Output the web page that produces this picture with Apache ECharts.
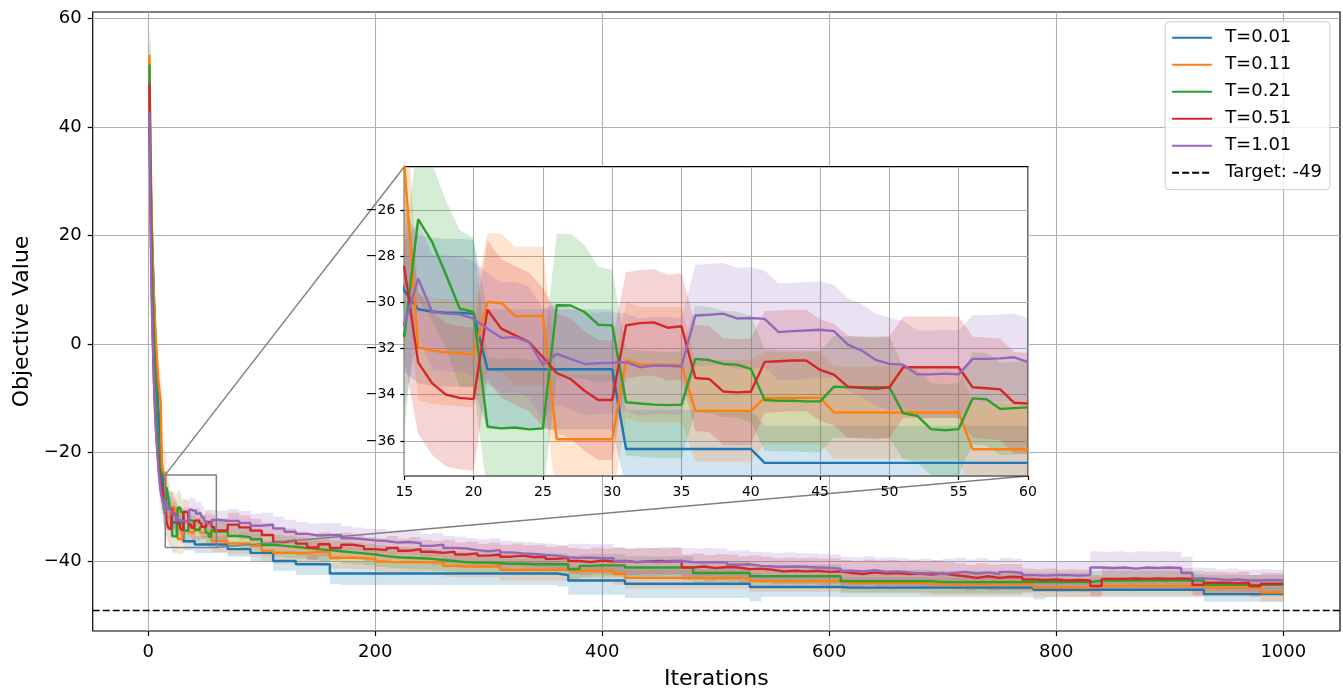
<!DOCTYPE html>
<html>
<head>
<meta charset="utf-8">
<script src="https://cdn.jsdelivr.net/npm/echarts@6/dist/echarts.min.js"></script>
<style>
html,body{margin:0;padding:0;background:#ffffff;}
#chart{width:1343px;height:690px;}
</style>
</head>
<body>
<div id="chart"></div>
<script>
// ---------------- DATA ----------------
const seriesNames = ['T=0.01', 'T=0.11', 'T=0.21', 'T=0.51', 'T=1.01'];
const targetLabel = 'Target: -49';
const targetValue = -49;

// iterations: 1..60 every iteration, then every 10 up to 1000
const iterations = [
  1,2,3,4,5,6,7,8,9,10,11,12,13,14,15,16,17,18,19,20,
  21,22,23,24,25,26,27,28,29,30,31,32,33,34,35,36,37,38,39,40,
  41,42,43,44,45,46,47,48,49,50,51,52,53,54,55,56,57,58,59,60,
  70,80,90,100,110,120,130,140,150,160,170,180,190,200,210,220,230,240,250,260,
  270,280,290,300,310,320,330,340,350,360,370,380,390,400,410,420,430,440,450,460,
  470,480,490,500,510,520,530,540,550,560,570,580,590,600,610,620,630,640,650,660,
  670,680,690,700,710,720,730,740,750,760,770,780,790,800,810,820,830,840,850,860,
  870,880,890,900,910,920,930,940,950,960,970,980,990,1000
];

const meanT001 = [
  40,30,22,15,9,3,-3,-8,-12,-16,
  -19,-22.5,-25.5,-27.8,-29.5,-30.3,-30.4,-30.45,-30.45,-30.5,
  -32.9,-32.9,-32.9,-32.9,-32.9,-32.9,-32.9,-32.9,-32.9,-32.9,
  -36.35,-36.35,-36.35,-36.35,-36.35,-36.35,-36.35,-36.35,-36.35,-36.35,
  -36.95,-36.95,-36.95,-36.95,-36.95,-36.95,-36.95,-36.95,-36.95,-36.95,
  -36.95,-36.95,-36.95,-36.95,-36.95,-36.95,-36.95,-36.95,-36.95,-36.95,
  -37.8,-37.8,-38.5,-38.5,-40.0,-40.0,-40.6,-40.6,-40.6,-42.3,
  -42.3,-42.3,-42.3,-42.3,-42.3,-42.3,-42.3,-42.3,-42.3,-42.3,
  -42.3,-42.3,-42.3,-42.3,-42.3,-42.3,-42.3,-42.3,-42.3,-42.6,
  -43.6,-43.6,-43.6,-43.6,-43.6,-44.2,-44.2,-44.2,-44.2,-44.2,
  -44.2,-44.2,-44.2,-44.2,-44.2,-44.2,-44.8,-44.8,-44.8,-44.8,
  -44.8,-44.8,-44.8,-44.8,-44.9,-44.9,-44.9,-44.9,-44.9,-44.9,
  -44.9,-44.9,-44.9,-44.9,-44.9,-44.9,-44.9,-44.9,-44.9,-44.9,
  -44.9,-45.3,-45.3,-45.3,-45.3,-45.3,-45.3,-45.3,-45.3,-45.3,
  -45.3,-45.3,-45.3,-45.3,-45.3,-45.3,-46.1,-46.1,-46.1,-46.1,
  -46.1,-46.1,-46.1,-46.1
];
const meanT011 = [
  53.3,36,24,15,8,3,-1,-4,-7,-9,
  -10.8,-22.5,-23.5,-23.8,-24.0,-31.94,-32.09,-32.16,-32.2,-32.26,
  -29.99,-30.03,-30.6,-30.6,-30.6,-35.93,-35.93,-35.93,-35.93,-35.93,
  -32.5,-32.7,-32.7,-32.7,-32.7,-34.7,-34.7,-34.7,-34.7,-34.7,
  -34.14,-34.14,-34.14,-34.14,-34.14,-34.77,-34.77,-34.77,-34.77,-34.77,
  -34.77,-34.77,-34.77,-34.77,-34.77,-36.36,-36.36,-36.36,-36.36,-36.36,
  -36.8,-36.8,-37.2,-38.1,-38.5,-38.5,-38.5,-38.3,-38.3,-39.4,
  -39.4,-39.5,-39.6,-40.1,-40.2,-40.2,-40.2,-40.2,-40.2,-40.9,
  -41.0,-41.0,-41.0,-41.0,-41.6,-41.6,-41.6,-41.6,-41.6,-41.6,
  -41.8,-41.8,-41.8,-41.8,-42.4,-43.1,-43.1,-43.1,-43.1,-43.1,
  -43.1,-43.1,-43.1,-43.1,-43.1,-43.1,-43.7,-43.7,-43.7,-43.7,
  -43.7,-43.7,-43.7,-43.7,-44.0,-44.0,-44.0,-44.0,-44.0,-44.0,
  -44.0,-44.2,-44.3,-44.3,-44.3,-44.3,-44.3,-44.3,-44.3,-44.3,
  -44.3,-44.9,-44.9,-44.9,-44.9,-44.9,-44.6,-44.6,-44.6,-44.6,
  -44.6,-44.6,-44.6,-44.6,-44.6,-44.6,-44.9,-44.9,-44.9,-44.9,
  -44.9,-45.8,-45.8,-45.8
];
const meanT021 = [
  51.5,33,19,9,1,-5,-10,-14.5,-18.5,-21.5,
  -24.5,-26.8,-28.8,-30.3,-31.5,-26.4,-27.38,-28.8,-30.28,-30.42,
  -35.38,-35.46,-35.42,-35.5,-35.46,-30.13,-30.14,-30.42,-30.97,-31.0,
  -34.33,-34.38,-34.43,-34.45,-34.43,-32.45,-32.5,-32.67,-32.7,-32.88,
  -34.23,-34.26,-34.26,-34.29,-34.29,-33.65,-33.68,-33.68,-33.68,-33.68,
  -34.81,-34.91,-35.49,-35.54,-35.49,-34.16,-34.2,-34.62,-34.58,-34.55,
  -35.4,-35.6,-36.0,-37.0,-37.2,-37.4,-37.6,-37.8,-38.0,-38.2,
  -38.4,-38.6,-38.8,-39.1,-39.3,-39.4,-39.5,-39.6,-39.8,-40.0,
  -40.2,-40.3,-40.3,-40.4,-40.5,-40.5,-40.6,-40.6,-40.6,-40.6,
  -41.5,-40.9,-40.8,-40.8,-40.8,-41.2,-41.2,-41.2,-41.2,-41.2,
  -41.2,-42.2,-42.2,-42.2,-42.2,-42.2,-42.8,-42.8,-42.8,-42.8,
  -42.8,-42.8,-42.8,-42.8,-43.7,-43.7,-43.7,-43.7,-43.7,-43.7,
  -43.7,-43.7,-43.9,-43.9,-43.9,-43.9,-43.9,-43.9,-43.9,-43.9,
  -43.9,-43.9,-43.9,-43.9,-43.9,-43.9,-43.6,-43.6,-43.6,-43.6,
  -43.6,-43.6,-43.6,-43.6,-43.6,-43.6,-44.4,-44.4,-44.4,-44.4,
  -44.4,-44.4,-44.4,-44.4
];
const meanT051 = [
  48,26,11,1,-7,-12.5,-16.5,-19.5,-22,-24,
  -25.5,-26.6,-27.4,-28,-28.5,-32.6,-33.5,-34.0,-34.14,-34.19,
  -30.32,-31.14,-31.43,-31.72,-32.38,-33.06,-33.32,-33.83,-34.23,-34.23,
  -31.0,-30.9,-30.87,-31.1,-31.04,-33.28,-33.32,-33.86,-33.9,-33.87,
  -32.58,-32.55,-32.52,-32.52,-32.93,-33.13,-33.65,-33.7,-33.74,-33.68,
  -32.81,-32.81,-32.81,-32.81,-32.81,-33.68,-33.72,-33.77,-34.35,-34.38,
  -33.3,-33.8,-34.4,-35.2,-36.5,-36.2,-36.8,-37.5,-36.9,-37.6,
  -37.0,-37.3,-37.8,-38.0,-37.6,-38.1,-37.8,-38.3,-38.5,-38.3,
  -38.8,-38.6,-39.0,-38.8,-39.2,-39.0,-39.3,-39.2,-39.6,-39.4,
  -40.0,-40.2,-39.9,-40.1,-40.0,-40.2,-40.1,-40.0,-40.1,-40.0,
  -41.2,-41.0,-41.3,-41.1,-41.2,-41.5,-41.4,-41.6,-41.9,-41.8,
  -41.9,-41.8,-42.0,-41.9,-42.2,-42.4,-42.1,-42.3,-42.2,-42.4,
  -42.3,-42.5,-42.3,-42.6,-42.8,-43.1,-42.8,-43.1,-42.9,-43.0,
  -43.4,-43.5,-43.4,-43.6,-43.5,-43.6,-44.6,-43.3,-43.3,-43.2,
  -43.3,-43.2,-43.3,-43.2,-43.3,-44.4,-44.0,-44.0,-44.1,-44.0,
  -44.6,-44.2,-44.2,-44.2
];
const meanT101 = [
  42.8,22,8,0,-6.5,-12,-16.5,-20,-23,-25.5,
  -27.3,-28.3,-29.2,-30.1,-31.0,-28.97,-30.42,-30.49,-30.52,-30.71,
  -31.14,-31.54,-31.51,-31.72,-32.7,-32.23,-32.45,-32.67,-32.64,-32.62,
  -32.59,-32.81,-32.74,-32.75,-32.78,-30.57,-30.54,-30.49,-30.7,-30.68,
  -30.72,-31.29,-31.25,-31.22,-31.19,-31.25,-31.83,-32.09,-32.49,-32.67,
  -32.7,-33.12,-33.12,-33.09,-33.12,-32.45,-32.45,-32.43,-32.38,-32.59,
  -32.6,-33.0,-33.5,-33.3,-34.0,-34.6,-35.0,-35.3,-35.2,-35.2,
  -35.8,-36.0,-36.2,-36.3,-36.6,-36.5,-36.7,-37.2,-37.0,-37.6,
  -37.7,-38.0,-38.2,-38.0,-38.4,-38.6,-38.7,-38.9,-39.0,-39.3,
  -39.4,-39.4,-39.5,-39.5,-40.0,-40.2,-40.1,-40.2,-40.0,-40.0,
  -40.2,-40.3,-40.2,-40.3,-40.7,-40.6,-40.9,-41.0,-41.1,-41.0,
  -41.1,-41.2,-41.3,-41.4,-41.8,-41.9,-41.7,-42.0,-41.9,-42.1,
  -42.3,-42.2,-42.4,-42.2,-42.0,-42.3,-42.1,-42.4,-42.0,-42.2,
  -42.6,-42.7,-42.6,-42.6,-42.7,-42.6,-41.2,-41.3,-41.2,-41.4,
  -41.2,-41.3,-41.2,-41.3,-42.2,-43.2,-43.3,-43.5,-43.4,-43.6,
  -43.6,-43.5,-43.6,-43.5
];

// half-width of the shaded band around each mean
const spreadT001 = [
  4,4,4,4,4,4,4,4,4,4,
  4,4,4,4,3.5,3.2,3.2,3.2,3.2,3.2,
  2.6,2.6,2.6,2.6,2.6,2.6,2.6,2.6,2.6,2.6,
  1.7,1.7,1.7,1.7,1.7,1.7,1.7,1.7,1.7,1.7,
  1.6,1.6,1.6,1.6,1.6,1.6,1.6,1.6,1.6,1.6,
  1.6,1.6,1.6,1.6,1.6,1.6,1.6,1.6,1.6,1.6,
  1.4,1.4,1.6,1.6,1.8,1.8,2.0,2.0,2.0,2.0,
  2.1,2.1,2.1,2.1,2.1,2.1,2.1,2.1,2.1,2.1,
  2.1,2.1,2.1,2.1,2.1,2.1,2.1,2.1,2.1,2.1,
  2.6,2.6,2.6,2.6,2.6,2.6,2.6,2.6,2.6,2.6,
  2.6,2.6,2.6,2.6,2.6,2.6,2.6,1.8,1.8,1.8,
  1.8,1.8,1.8,1.8,1.8,1.8,1.8,1.8,1.8,1.8,
  1.8,1.8,1.8,1.8,1.8,1.8,1.8,1.8,1.8,1.8,
  1.8,1.8,1.4,1.4,1.4,1.4,1.4,1.4,1.4,1.4,
  1.4,1.4,1.4,1.4,1.4,1.4,1.4,1.4,1.4,1.4,
  1.4,1.4,1.4,1.4
];
const spreadT011 = [
  4,4,4,4,4,4,4,4,4,4,
  4,4,4,4,4,2.3,2.3,2.3,2.3,2.3,
  3.0,3.0,3.0,3.0,3.0,2.8,2.8,2.8,2.8,2.8,
  2.5,2.5,2.5,2.5,2.5,2.2,2.2,2.2,2.2,2.2,
  2.0,2.0,2.0,2.0,2.0,2.0,2.0,2.0,2.0,2.0,
  2.0,2.0,2.0,2.0,2.0,2.0,2.0,2.0,2.0,2.0,
  2.0,2.0,2.0,2.0,2.0,2.0,2.0,2.0,2.0,2.0,
  2.0,2.0,2.0,2.0,2.0,2.0,2.0,2.0,2.0,2.0,
  2.0,2.0,2.0,2.0,2.0,2.0,2.0,2.0,2.0,2.0,
  2.0,2.0,2.0,2.0,2.0,2.0,2.0,2.0,2.0,2.0,
  2.0,2.0,2.0,2.0,2.0,2.0,2.0,2.0,2.0,2.0,
  2.0,2.0,2.0,2.0,2.0,2.0,2.0,2.0,2.0,2.0,
  2.0,2.0,2.0,2.0,2.0,2.0,2.0,2.0,2.0,2.0,
  1.7,1.7,1.7,1.7,1.7,1.7,1.7,1.7,1.7,1.7,
  1.7,1.7,1.7,1.7,1.7,1.7,1.7,1.7,1.7,1.7,
  1.7,1.7,1.7,1.7
];
const spreadT021 = [
  4,4,4,4,4,4,4,4,4,4,
  4,4,4,4,4,3.5,3.4,3.2,3.4,3.2,
  3.0,3.0,3.0,3.0,3.0,3.1,3.1,2.9,2.5,2.4,
  2.3,2.3,2.3,2.3,2.3,2.3,2.3,2.3,2.3,2.3,
  2.2,2.2,2.2,2.2,2.2,2.2,2.2,2.2,2.2,2.2,
  2.0,2.0,2.0,2.0,2.0,2.0,2.0,2.0,2.0,2.0,
  2.0,2.0,2.0,2.0,2.0,2.0,2.0,2.0,2.0,2.0,
  2.0,2.0,2.0,2.0,2.0,2.0,2.0,2.0,2.0,2.0,
  2.0,2.0,2.0,2.0,2.0,2.0,2.0,2.0,2.0,2.0,
  2.1,2.1,2.1,2.1,2.1,2.1,2.1,2.1,2.1,2.1,
  2.1,2.1,2.1,2.1,2.1,2.1,2.1,2.1,2.1,2.1,
  2.1,2.1,2.1,2.1,2.1,2.1,2.1,2.1,2.1,2.1,
  2.1,2.1,2.1,2.1,2.1,2.1,2.1,2.1,2.1,2.1,
  1.8,1.8,1.8,1.8,1.8,1.8,1.8,1.8,1.8,1.8,
  1.8,1.8,1.8,1.8,1.8,1.8,1.8,1.8,1.8,1.8,
  1.8,1.8,1.8,1.8
];
const spreadT051 = [
  4,4,4,4,4,4,4,4,4,4,
  4,4,4,4,4,3.1,3.1,3.1,3.1,3.1,
  3.0,3.0,3.0,3.0,3.0,2.6,2.6,2.6,2.6,2.6,
  2.3,2.3,2.3,2.3,2.3,2.3,2.3,2.3,2.3,2.3,
  2.2,2.2,2.2,2.2,2.2,2.2,2.2,2.2,2.2,2.2,
  2.2,2.2,2.2,2.2,2.2,2.2,2.2,2.2,2.2,2.2,
  2.2,2.2,2.2,2.2,2.2,2.2,2.2,2.2,2.2,2.2,
  2.2,2.2,2.2,2.2,2.2,2.2,2.2,2.2,2.2,2.2,
  2.2,2.2,2.2,2.2,2.2,2.2,2.2,2.2,2.2,2.2,
  2.4,2.4,2.4,2.4,2.4,2.4,2.4,2.4,2.4,2.4,
  2.4,2.4,2.4,2.4,2.4,2.4,2.4,2.4,2.4,2.4,
  2.4,2.4,2.4,2.4,2.4,2.4,2.4,2.4,2.4,2.4,
  2.4,2.4,2.4,2.4,2.4,2.4,2.4,2.4,2.4,2.4,
  2.0,2.0,2.0,2.0,2.0,2.0,2.0,2.0,2.0,2.0,
  2.0,2.0,2.0,2.0,2.0,2.0,2.0,2.0,2.0,2.0,
  2.0,2.0,2.0,2.0
];
const spreadT101 = [
  4,4,4,4,4,4,4,4,4,4,
  4,4,4,4,3.5,2.5,2.5,2.5,2.5,2.5,
  2.4,2.4,2.4,2.4,2.4,2.2,2.2,2.2,2.2,2.2,
  2.1,2.1,2.1,2.1,2.1,2.2,2.2,2.2,2.2,2.2,
  2.1,2.1,2.1,2.1,2.1,2.0,2.0,2.0,2.0,2.0,
  1.9,1.9,1.9,1.9,1.9,1.9,1.9,1.9,1.9,1.9,
  2.2,2.2,2.2,2.2,2.2,2.2,2.2,2.2,2.2,2.2,
  2.2,2.2,2.2,2.2,2.2,2.2,2.2,2.2,2.2,2.2,
  2.2,2.2,2.2,2.2,2.2,2.2,2.2,2.2,2.2,2.2,
  2.6,2.6,2.6,2.6,2.6,2.6,2.6,2.6,2.6,2.6,
  2.6,2.6,2.6,2.6,2.6,2.6,2.6,2.6,2.6,2.6,
  2.6,2.6,2.6,2.6,2.6,2.6,2.6,2.6,2.6,2.6,
  2.6,2.6,2.6,2.6,2.6,2.6,2.6,2.6,2.6,2.6,
  2.6,2.6,2.6,2.6,2.6,2.6,3.0,3.0,3.0,3.0,
  3.0,3.0,3.0,3.0,3.0,2.0,2.0,2.0,2.0,2.0,
  2.0,2.0,2.0,2.0
];

// tick labels
const mainXTicks = [0, 200, 400, 600, 800, 1000];
const mainYTicks = [-40, -20, 0, 20, 40, 60];
const insetXTicks = [15, 20, 25, 30, 35, 40, 45, 50, 55, 60];
const insetYTicks = [-36, -34, -32, -30, -28, -26];

// ---------------- STYLE / LAYOUT ----------------
const means = [meanT001, meanT011, meanT021, meanT051, meanT101];
const spreads = [spreadT001, spreadT011, spreadT021, spreadT051, spreadT101];
const colors = ['#1f77b4', '#ff7f0e', '#2ca02c', '#d62728', '#9467bd'];
const bandFills = ['rgba(31,119,180,0.2)', 'rgba(255,127,14,0.2)', 'rgba(44,160,44,0.2)', 'rgba(214,39,40,0.2)', 'rgba(148,103,189,0.2)'];
const FONT = 'DejaVu Sans';
const mainX = [-48.95, 1049.95];
const mainY = [-52.9, 61.2];
const insetX = [15, 60];
const insetY = [-37.52, -24.13];
const INSET_N = 60;
const minus = v => String(v).replace('-', '\u2212');

function bandSeries(k, axisIdx, step, z, count) {
  const xs = iterations.slice(0, count);
  const m = means[k].slice(0, count);
  const s = spreads[k].slice(0, count);
  return {
    type: 'custom', name: seriesNames[k] + ' band',
    xAxisIndex: axisIdx, yAxisIndex: axisIdx, z: z, silent: true, animation: false,
    data: [[xs[xs.length - 1], m[m.length - 1]]],
    renderItem: function (params, api) {
      const up = [], lo = [];
      for (let i = 0; i < xs.length; i++) {
        const u = m[i] + s[i], l = m[i] - s[i];
        up.push(api.coord([xs[i], u]));
        lo.push(api.coord([xs[i], l]));
        if (step && i < xs.length - 1) {
          up.push(api.coord([xs[i + 1], u]));
          lo.push(api.coord([xs[i + 1], l]));
        }
      }
      const cs = params.coordSys;
      return {
        type: 'polygon',
        shape: { points: up.concat(lo.reverse()) },
        style: { fill: bandFills[k], stroke: null },
        clipPath: { type: 'rect', shape: { x: cs.x, y: cs.y, width: cs.width, height: cs.height } }
      };
    }
  };
}

function lineSeries(k, axisIdx, step, z, count) {
  const data = [];
  for (let i = 0; i < count; i++) data.push([iterations[i], means[k][i]]);
  return {
    type: 'line', name: seriesNames[k], xAxisIndex: axisIdx, yAxisIndex: axisIdx,
    data: data, step: step ? 'end' : false, symbol: 'none', showSymbol: false,
    lineStyle: { color: colors[k], width: 2.4 }, itemStyle: { color: colors[k] },
    z: z, clip: true, animation: false, silent: true, emphasis: { disabled: true }
  };
}

const series = [];
for (let k = 0; k < 5; k++) series.push(bandSeries(k, 0, true, 1, iterations.length));
for (let k = 0; k < 5; k++) series.push(lineSeries(k, 0, true, 2, iterations.length));
series.push({
  type: 'line', name: targetLabel, xAxisIndex: 0, yAxisIndex: 0, data: [],
  symbol: 'none', lineStyle: { color: '#000000', width: 1.5, type: [7, 3] }, itemStyle: { color: '#000000' },
  z: 2, animation: false, silent: true,
  markLine: {
    silent: true, symbol: ['none', 'none'], label: { show: false }, animation: false,
    lineStyle: { color: '#000000', width: 1.4, type: [7, 3] },
    data: [{ yAxis: targetValue }]
  }
});
series.push({
  type: 'line', name: 'zoom box', xAxisIndex: 0, yAxisIndex: 0,
  data: [[insetX[0], insetY[1]], [insetX[1], insetY[1]], [insetX[1], insetY[0]], [insetX[0], insetY[0]], [insetX[0], insetY[1]]],
  symbol: 'none', lineStyle: { color: '#808080', width: 1.5 }, z: 3, animation: false, silent: true
});
for (let k = 0; k < 5; k++) series.push(bandSeries(k, 1, false, 5, INSET_N));
for (let k = 0; k < 5; k++) series.push(lineSeries(k, 1, false, 6, INSET_N));

const splitStyle = { show: true, lineStyle: { color: '#b0b0b0', width: 1.1 } };
const tickStyle = (len, vals) => ({ show: true, length: len, lineStyle: { color: '#000', width: 1.2 }, customValues: vals });
const hiddenLine = { show: false, onZero: false };

const option = {
  animation: false,
  backgroundColor: '#ffffff',
  textStyle: { fontFamily: FONT },
  grid: [
    { left: 92.7, top: 12, right: 3, bottom: 59, containLabel: false, outerBoundsMode: 'none', show: true, borderColor: '#000', borderWidth: 1.2, backgroundColor: 'transparent', z: 0 },
    { left: 404.3, top: 166.7, width: 623.7, height: 309.3, containLabel: false, outerBoundsMode: 'none', show: true, borderColor: '#000', borderWidth: 1.2, backgroundColor: '#ffffff', z: 4 }
  ],
  xAxis: [
    {
      gridIndex: 0, type: 'value', position: 'bottom', min: mainX[0], max: mainX[1], minInterval: 200, maxInterval: 200,
      axisLine: hiddenLine, axisTick: tickStyle(5, mainXTicks),
      axisLabel: { customValues: mainXTicks, color: '#000', fontSize: 18, fontFamily: FONT, margin: 12, formatter: minus },
      splitLine: splitStyle,
      name: 'Iterations', nameLocation: 'middle', nameGap: 37,
      nameTextStyle: { color: '#000', fontSize: 22, fontFamily: FONT }
    },
    {
      gridIndex: 1, type: 'value', position: 'bottom', min: insetX[0], max: insetX[1], interval: 5, z: 4,
      axisLine: hiddenLine, axisTick: tickStyle(4, insetXTicks),
      axisLabel: { customValues: insetXTicks, color: '#000', fontSize: 14, fontFamily: FONT, margin: 9, formatter: minus },
      splitLine: splitStyle
    }
  ],
  yAxis: [
    {
      gridIndex: 0, type: 'value', position: 'left', min: mainY[0], max: mainY[1], minInterval: 20, maxInterval: 20,
      axisLine: hiddenLine, axisTick: tickStyle(5, mainYTicks),
      axisLabel: { customValues: mainYTicks, color: '#000', fontSize: 18, fontFamily: FONT, margin: 11, formatter: minus },
      splitLine: splitStyle,
      name: 'Objective Value', nameLocation: 'middle', nameGap: 59,
      nameTextStyle: { color: '#000', fontSize: 22, fontFamily: FONT }
    },
    {
      gridIndex: 1, type: 'value', position: 'left', min: insetY[0], max: insetY[1], minInterval: 2, maxInterval: 2, z: 4,
      axisLine: hiddenLine, axisTick: tickStyle(4, insetYTicks),
      axisLabel: { customValues: insetYTicks, color: '#000', fontSize: 14, fontFamily: FONT, margin: 9, formatter: minus },
      splitLine: splitStyle
    }
  ],
  legend: {
    data: seriesNames.concat([targetLabel]),
    orient: 'vertical', right: 13, top: 21.7,
    itemWidth: 40, itemHeight: 14, itemGap: 9,
    padding: [7, 8, 8, 6],
    itemStyle: { color: 'rgba(0,0,0,0)', borderWidth: 0, borderColor: 'rgba(0,0,0,0)' },
    backgroundColor: 'rgba(255,255,255,0.8)', borderColor: '#cccccc', borderWidth: 1, borderRadius: 4,
    textStyle: { color: '#000', fontSize: 18, fontFamily: FONT, padding: [0, 0, 0, 8] },
    selectedMode: false, z: 10
  },
  series: series
};

const chart = echarts.init(document.getElementById('chart'), null, { renderer: 'canvas' });
chart.setOption(option);

// connector lines between the zoom box (main axes) and the inset axes corners
const pA = chart.convertToPixel({ gridIndex: 0 }, [insetX[0], insetY[1]]);
const qA = chart.convertToPixel({ gridIndex: 1 }, [insetX[0], insetY[1]]);
const pB = chart.convertToPixel({ gridIndex: 0 }, [insetX[1], insetY[0]]);
const qB = chart.convertToPixel({ gridIndex: 1 }, [insetX[1], insetY[0]]);
chart.setOption({
  graphic: [
    { type: 'line', z: 3, silent: true, shape: { x1: pA[0], y1: pA[1], x2: qA[0], y2: qA[1] }, style: { stroke: '#808080', lineWidth: 1.4 } },
    { type: 'line', z: 3, silent: true, shape: { x1: pB[0], y1: pB[1], x2: qB[0], y2: qB[1] }, style: { stroke: '#808080', lineWidth: 1.4 } }
  ]
});
</script>
</body>
</html>
